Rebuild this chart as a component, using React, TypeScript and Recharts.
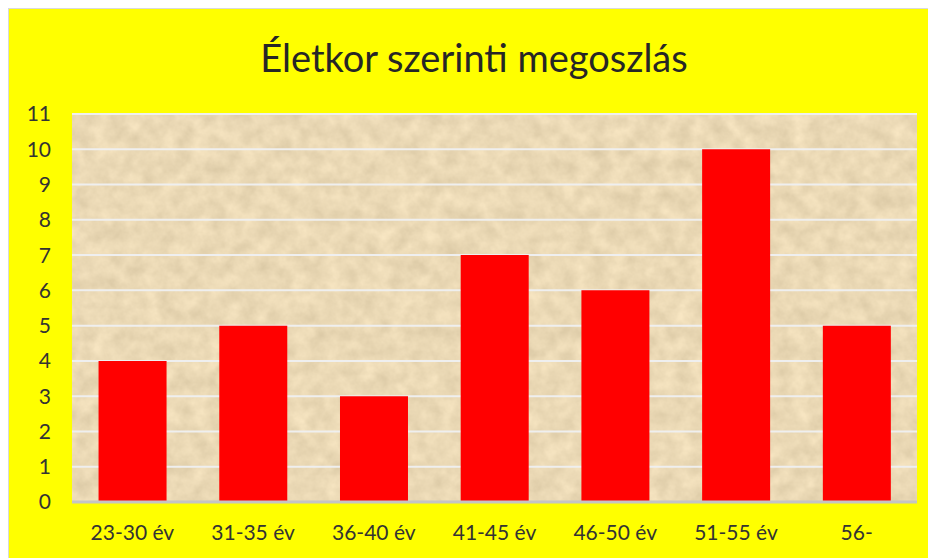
import React from 'react';
import { BarChart, Bar, XAxis, YAxis, CartesianGrid } from 'recharts';

const categories = ['23-30 év', '31-35 év', '36-40 év', '41-45 év', '46-50 év', '51-55 év', '56-'];
const counts = [4, 5, 3, 7, 6, 10, 5];
const yTicks = [0, 1, 2, 3, 4, 5, 6, 7, 8, 9, 10, 11];

const data = categories.map((name, i) => ({ name, value: counts[i] }));

const FONT = 'Lato, "Open Sans", sans-serif';

export default function App() {
  return (
    <div
      style={{
        position: 'relative',
        width: 930,
        height: 552,
        background: '#ffff00',
        border: '1px solid #d9d9d9',
        fontFamily: FONT,
      }}
    >
      <div
        style={{
          position: 'absolute',
          left: 0,
          right: 0,
          top: 26,
          textAlign: 'center',
          fontSize: 38,
          color: '#262626',
          lineHeight: '44px',
        }}
      >
        Életkor szerinti megoszlás
      </div>
      <BarChart
        width={927}
        height={549}
        data={data}
        margin={{ top: 105, right: 19, bottom: 0, left: 13 }}
        barCategoryGap="22%"
      >
        <defs>
          {/* sandy paper texture behind the plot area */}
          <filter
            id="sandNoise"
            x="0"
            y="0"
            width="100%"
            height="100%"
            colorInterpolationFilters="sRGB"
          >
            <feTurbulence type="fractalNoise" baseFrequency="0.06" numOctaves="4" seed="7" result="n" />
            <feColorMatrix
              in="n"
              type="matrix"
              values="0.14 0 0 0 0.85  0.14 0 0 0 0.78  0.14 0 0 0 0.64  0 0 0 0 1"
            />
          </filter>
          <pattern id="sand" patternUnits="userSpaceOnUse" width="940" height="560">
            <rect width="940" height="560" fill="#e8d6b0" filter="url(#sandNoise)" />
          </pattern>
        </defs>
        <CartesianGrid
          vertical={false}
          stroke="#efefef"
          strokeWidth={2}
          fill="url(#sand)"
          fillOpacity={1}
        />
        <XAxis
          dataKey="name"
          height={56}
          tickSize={0}
          tickMargin={23}
          axisLine={{ stroke: '#c4c4c4', strokeWidth: 3 }}
          tick={{ fontSize: 21, fill: '#333', fontFamily: FONT }}
          interval={0}
        />
        <YAxis
          width={50}
          domain={[0, 11]}
          ticks={yTicks}
          interval={0}
          tickSize={0}
          tickMargin={21}
          axisLine={false}
          tick={{ fontSize: 21, fill: '#333', fontFamily: FONT }}
        />
        <Bar dataKey="value" fill="#ff0000" isAnimationActive={false} />
      </BarChart>
    </div>
  );
}
